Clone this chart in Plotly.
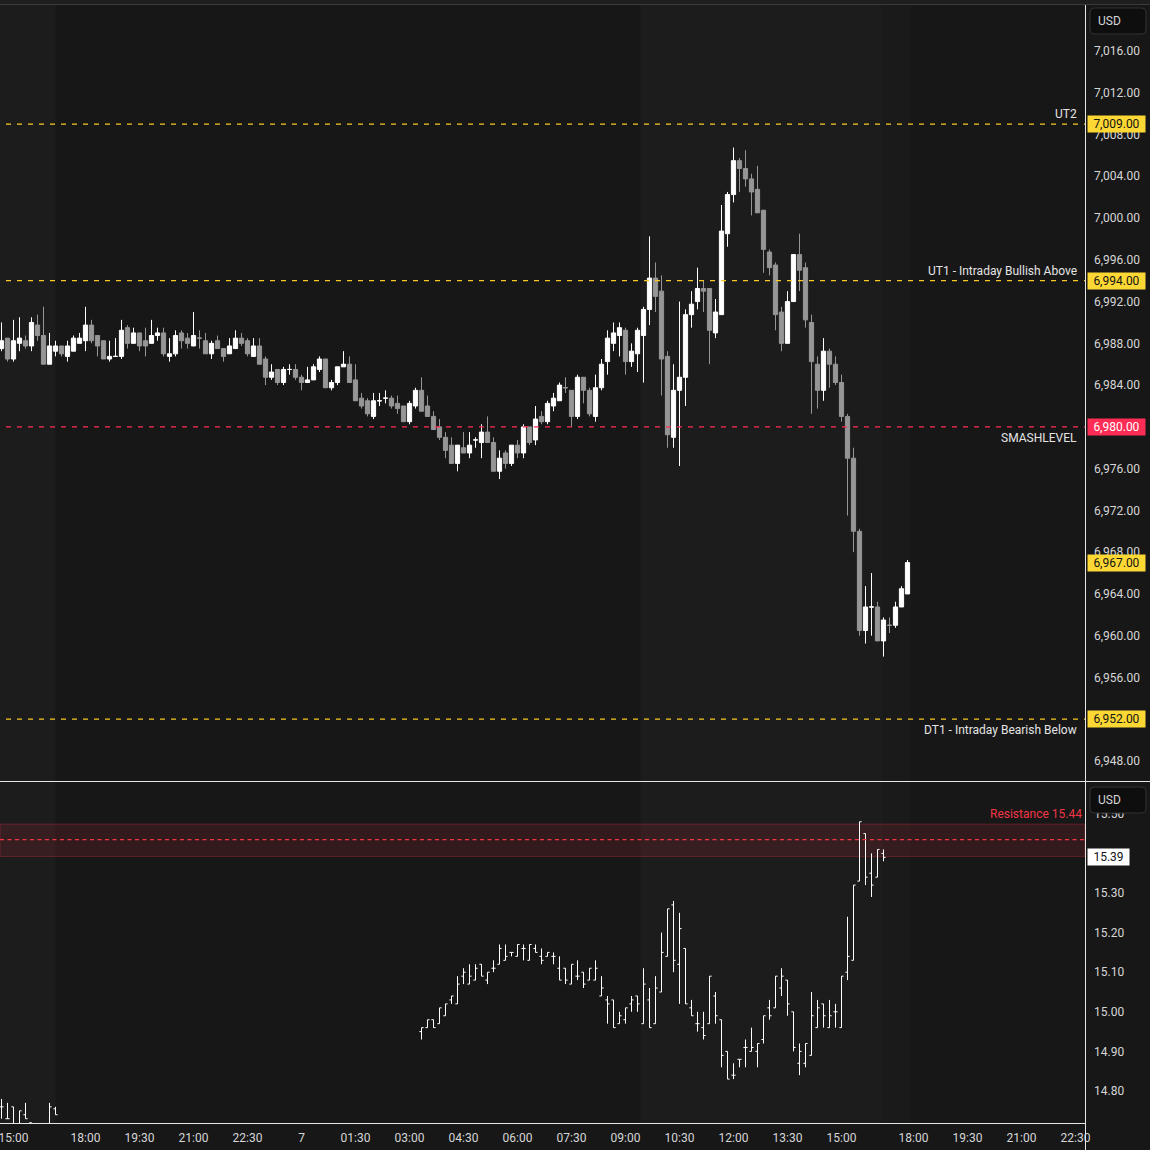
import numpy as np
import pandas as pd
import plotly.graph_objects as go

W = H = 1150

# ---------------- time grid: 10-minute bars, daily 17:00-18:00 break removed ----------------
bars = pd.date_range("2026-01-06 14:40", "2026-01-07 23:50", freq="10min")
bars = bars[bars.hour != 17]

# ---------------- ES 10-minute candles (first bar 2026-01-06 14:40) ----------------
es_start = "2026-01-06 14:40"
es_open = [
    6987.5, 6988.5, 6986.5, 6988.0, 6988.25, 6987.75, 6989.75, 6988.75, 6986.0, 6987.25,
    6987.75, 6986.75, 6987.25, 6988.0, 6988.25, 6989.75, 6988.75, 6988.25, 6986.5, 6986.75,
    6986.75, 6989.5, 6988.0, 6989.0, 6988.25, 6988.0, 6988.75, 6989.0, 6986.75, 6987.0,
    6989.0, 6988.5, 6987.75, 6988.5, 6988.25, 6987.0, 6988.25, 6987.5, 6987.0, 6987.5,
    6988.5, 6988.25, 6986.75, 6987.75, 6986.5, 6984.75, 6985.5, 6984.25, 6985.5, 6985.5,
    6984.75, 6984.25, 6984.5, 6985.5, 6986.5, 6983.75, 6984.25, 6985.75, 6986.0, 6984.5,
    6982.75, 6982.5, 6981.0, 6982.5, 6982.75, 6982.75, 6982.25, 6982.0, 6980.5, 6982.0,
    6983.5, 6982.0, 6981.0, 6980.0, 6979.0, 6978.25, 6976.5, 6978.0, 6977.5, 6978.75,
    6978.5, 6979.5, 6978.5, 6975.75, 6977.5, 6976.5, 6978.25, 6977.5, 6980.0, 6978.75,
    6981.0, 6980.5, 6982.0, 6982.5, 6983.75, 6983.5, 6981.0, 6984.75, 6983.5, 6981.0,
    6983.75, 6986.25, 6988.0, 6988.75, 6989.25, 6986.25, 6987.0, 6988.75, 6991.25, 6994.25,
    6993.0, 6986.75, 6979.0, 6983.5, 6984.75, 6990.75, 6992.0, 6993.25, 6993.25, 6989.0,
    6990.75, 6998.5, 7002.25, 7005.5, 7004.75, 7003.75, 7002.75, 7000.75, 6996.75, 6995.5,
    6991.0, 6988.0, 6992.0, 6996.5, 6995.25, 6990.0, 6986.0, 6983.5, 6987.25, 6986.0,
    6984.25, 6981.0, 6977.0, 6970.0, 6960.5, 6962.75, 6962.75, 6959.5, 6961.0, 6961.0,
    6962.75, 6964.0,
]
es_high = [
    6990.0, 6988.5, 6990.25, 6990.5, 6988.75, 6990.5, 6990.75, 6991.5, 6989.0, 6988.25,
    6987.75, 6988.25, 6988.75, 6989.0, 6991.5, 6990.25, 6988.75, 6988.25, 6988.25, 6988.5,
    6990.25, 6989.75, 6989.5, 6989.0, 6989.5, 6990.25, 6989.5, 6989.5, 6988.5, 6989.25,
    6989.25, 6989.0, 6991.0, 6989.25, 6989.0, 6988.25, 6988.75, 6987.5, 6988.5, 6989.25,
    6989.0, 6988.5, 6988.5, 6988.5, 6986.75, 6986.0, 6985.5, 6985.75, 6986.0, 6986.0,
    6985.0, 6985.75, 6986.0, 6986.75, 6986.5, 6984.5, 6985.75, 6987.25, 6986.75, 6986.0,
    6983.25, 6982.75, 6983.25, 6983.25, 6983.5, 6983.0, 6983.0, 6982.0, 6982.5, 6983.75,
    6984.75, 6983.0, 6981.5, 6980.75, 6979.5, 6979.0, 6978.25, 6979.5, 6979.5, 6979.0,
    6980.25, 6981.0, 6979.0, 6977.75, 6977.75, 6978.25, 6978.75, 6980.25, 6980.0, 6982.0,
    6981.5, 6982.5, 6983.25, 6984.25, 6984.75, 6983.5, 6985.0, 6984.75, 6983.75, 6985.0,
    6986.5, 6989.25, 6990.0, 6990.0, 6989.5, 6988.0, 6989.5, 6991.5, 6998.25, 6995.75,
    6994.5, 6987.25, 6986.0, 6992.0, 6991.25, 6993.0, 6995.25, 6994.0, 6993.25, 6992.25,
    7001.25, 7002.5, 7006.75, 7005.75, 7006.5, 7004.25, 7005.0, 7000.75, 6997.0, 6995.75,
    6991.5, 6993.0, 6996.5, 6998.5, 6995.75, 6990.75, 6986.75, 6988.5, 6987.5, 6986.75,
    6985.0, 6981.25, 6978.0, 6970.25, 6964.75, 6966.0, 6963.25, 6961.75, 6961.75, 6963.25,
    6964.75, 6967.25,
]
es_low = [
    6987.25, 6986.25, 6986.25, 6987.25, 6987.5, 6987.25, 6988.25, 6986.0, 6986.0, 6986.75,
    6986.75, 6986.25, 6987.25, 6988.0, 6987.25, 6988.0, 6986.75, 6986.5, 6986.25, 6986.75,
    6986.5, 6987.5, 6988.0, 6987.25, 6986.75, 6988.0, 6988.25, 6986.75, 6986.25, 6986.75,
    6987.5, 6987.5, 6987.75, 6987.5, 6987.0, 6986.5, 6987.5, 6986.25, 6987.0, 6987.5,
    6987.75, 6986.75, 6986.75, 6986.0, 6984.0, 6984.5, 6984.0, 6984.0, 6985.0, 6984.5,
    6983.5, 6984.25, 6984.5, 6985.25, 6983.75, 6983.5, 6984.0, 6985.75, 6984.25, 6982.5,
    6981.75, 6981.0, 6980.75, 6982.0, 6982.25, 6981.75, 6981.25, 6980.5, 6980.25, 6981.75,
    6981.5, 6981.0, 6979.75, 6978.75, 6977.0, 6976.5, 6975.75, 6977.5, 6977.0, 6978.0,
    6977.0, 6978.5, 6975.75, 6975.0, 6976.0, 6976.25, 6977.0, 6977.0, 6978.25, 6978.25,
    6980.25, 6980.25, 6981.5, 6982.5, 6983.25, 6980.0, 6980.75, 6982.25, 6981.0, 6980.5,
    6983.5, 6985.0, 6987.25, 6986.75, 6985.0, 6985.75, 6985.25, 6984.25, 6989.75, 6991.0,
    6983.0, 6978.0, 6978.0, 6976.25, 6982.0, 6989.5, 6991.25, 6991.0, 6986.0, 6988.5,
    6990.75, 6997.25, 7001.5, 7002.5, 7003.0, 7000.25, 7000.5, 6994.75, 6994.5, 6989.25,
    6987.25, 6988.0, 6992.0, 6993.0, 6989.5, 6981.25, 6981.75, 6982.5, 6983.75, 6984.0,
    6980.5, 6971.5, 6968.0, 6960.0, 6959.25, 6960.0, 6959.5, 6958.0, 6960.25, 6960.75,
    6962.75, 6964.0,
]
es_close = [
    6988.25, 6986.5, 6988.25, 6988.5, 6987.75, 6990.0, 6988.75, 6986.0, 6987.75, 6987.75,
    6987.0, 6987.75, 6988.5, 6988.5, 6989.75, 6988.25, 6987.75, 6986.5, 6986.75, 6986.75,
    6989.25, 6988.0, 6989.0, 6987.75, 6987.75, 6988.75, 6989.0, 6987.0, 6987.0, 6988.75,
    6988.25, 6988.0, 6988.75, 6988.5, 6987.0, 6988.0, 6987.5, 6986.75, 6987.75, 6988.5,
    6988.0, 6987.0, 6987.75, 6986.0, 6984.75, 6985.25, 6984.25, 6985.5, 6985.5, 6984.75,
    6984.25, 6984.5, 6985.75, 6986.5, 6983.75, 6984.25, 6985.75, 6986.0, 6984.25, 6982.5,
    6982.0, 6981.25, 6982.5, 6982.5, 6982.75, 6982.0, 6981.75, 6980.5, 6982.25, 6983.5,
    6981.5, 6981.0, 6979.75, 6979.0, 6977.75, 6976.5, 6978.25, 6977.5, 6978.25, 6978.75,
    6979.5, 6978.5, 6975.75, 6977.0, 6976.5, 6978.25, 6977.5, 6980.0, 6978.5, 6980.75,
    6980.5, 6982.25, 6982.75, 6984.0, 6983.75, 6981.0, 6984.75, 6983.5, 6981.25, 6983.75,
    6986.0, 6988.5, 6989.0, 6989.5, 6986.25, 6987.25, 6989.25, 6991.25, 6994.25, 6992.5,
    6986.5, 6979.25, 6983.5, 6984.75, 6990.75, 6991.75, 6993.25, 6993.0, 6989.25, 6991.0,
    6998.75, 7002.25, 7005.5, 7004.75, 7003.75, 7002.5, 7000.5, 6997.0, 6995.25, 6990.75,
    6988.0, 6992.0, 6996.5, 6995.0, 6990.25, 6986.25, 6983.5, 6987.25, 6986.0, 6984.25,
    6981.0, 6977.0, 6970.0, 6960.5, 6962.75, 6962.75, 6959.5, 6961.5, 6961.0, 6962.75,
    6964.5, 6967.0,
]

# ---------------- second instrument, 10-minute OHLC bars (two sessions) ----------------
vix_sessions = [("2026-01-06 14:40", 10), ("2026-01-07 03:20", 78)]
vix_open = [
    14.76, 14.73, 14.76, 14.71, 14.74, 14.72, 14.69, 14.68, 14.70, 14.755,
    14.95, 14.96, 14.98, 14.97, 14.99, 15.03, 15.02, 15.09, 15.07, 15.08,
    15.12, 15.08, 15.11, 15.12, 15.13, 15.15, 15.14, 15.16, 15.13, 15.16,
    15.14, 15.14, 15.14, 15.11, 15.11, 15.07, 15.09, 15.10, 15.08, 15.08,
    15.04, 15.03, 15.03, 14.97, 14.98, 15.02, 15.04, 14.97, 15.03, 14.97,
    15.05, 15.14, 15.27, 15.12, 15.16, 15.01, 14.97, 14.96, 14.97, 15.04,
    14.98, 14.90, 14.84, 14.88, 14.91, 14.90, 14.90, 14.93, 15.01, 15.01,
    15.06, 15.08, 15.00, 14.87, 14.87, 14.89, 14.96, 15.02, 14.96, 15.00,
    14.96, 15.10, 15.13, 15.33, 15.45, 15.35, 15.34, 15.40,
]
vix_high = [
    14.78, 14.77, 14.76, 14.75, 14.77, 14.72, 14.71, 14.70, 14.77, 14.76,
    14.96, 14.98, 14.98, 15.01, 15.02, 15.04, 15.09, 15.11, 15.12, 15.12,
    15.12, 15.10, 15.13, 15.17, 15.17, 15.15, 15.17, 15.17, 15.17, 15.17,
    15.16, 15.15, 15.15, 15.14, 15.11, 15.12, 15.13, 15.10, 15.11, 15.13,
    15.09, 15.04, 15.03, 15.00, 15.01, 15.04, 15.04, 15.11, 15.06, 15.09,
    15.20, 15.26, 15.28, 15.25, 15.16, 15.03, 15.00, 15.00, 15.09, 15.05,
    14.98, 14.90, 14.87, 14.88, 14.93, 14.96, 14.92, 14.99, 15.03, 15.09,
    15.11, 15.08, 15.00, 14.92, 14.92, 15.05, 15.03, 15.02, 15.03, 15.02,
    15.09, 15.24, 15.32, 15.48, 15.45, 15.40, 15.41, 15.41,
]
vix_low = [
    14.73, 14.73, 14.70, 14.70, 14.73, 14.68, 14.66, 14.67, 14.70, 14.74,
    14.93, 14.96, 14.96, 14.97, 14.99, 15.02, 15.02, 15.07, 15.07, 15.08,
    15.09, 15.07, 15.10, 15.12, 15.13, 15.14, 15.14, 15.13, 15.13, 15.15,
    15.12, 15.14, 15.12, 15.08, 15.07, 15.07, 15.08, 15.06, 15.08, 15.08,
    15.04, 14.97, 14.96, 14.97, 14.97, 15.00, 15.00, 14.97, 14.96, 14.97,
    15.05, 15.14, 15.10, 15.02, 15.02, 14.99, 14.95, 14.93, 14.97, 14.97,
    14.86, 14.83, 14.83, 14.86, 14.86, 14.90, 14.86, 14.92, 14.98, 15.01,
    15.04, 14.99, 14.90, 14.84, 14.86, 14.89, 14.96, 14.96, 14.96, 14.96,
    14.96, 15.08, 15.13, 15.33, 15.32, 15.29, 15.34, 15.38,
]
vix_close = [
    14.76, 14.73, 14.71, 14.75, 14.73, 14.69, 14.68, 14.70, 14.76, 14.74,
    14.96, 14.98, 14.96, 15.01, 15.02, 15.04, 15.07, 15.10, 15.09, 15.11,
    15.09, 15.10, 15.11, 15.16, 15.14, 15.15, 15.17, 15.16, 15.17, 15.15,
    15.13, 15.15, 15.14, 15.08, 15.08, 15.12, 15.09, 15.07, 15.11, 15.11,
    15.06, 15.02, 14.96, 14.99, 15.01, 15.03, 15.02, 15.07, 14.96, 15.06,
    15.15, 15.26, 15.13, 15.21, 15.02, 14.99, 14.97, 14.94, 15.09, 14.99,
    14.89, 14.83, 14.84, 14.88, 14.91, 14.91, 14.92, 14.99, 14.99, 15.09,
    15.09, 15.02, 14.91, 14.90, 14.92, 14.99, 15.01, 14.99, 14.99, 15.00,
    15.09, 15.14, 15.32, 15.48, 15.34, 15.32, 15.41, 15.39,
]

# ---------------- levels ----------------
level_names = ["UT2", "UT1 - Intraday Bullish Above", "SMASHLEVEL", "DT1 - Intraday Bearish Below"]
level_values = [7009.0, 6994.0, 6980.0, 6952.0]
level_kind = ["bull", "bull", "smash", "bull"]
level_label_side = ["above", "above", "below", "below"]
es_last = es_close[-1]

resistance_value = 15.435
resistance_text = "Resistance 15.44"
resistance_band = [15.392, 15.474]
vix_last = vix_close[-1]

# session shading (regular hours)
rth_windows = [("2026-01-06 09:30", "2026-01-06 16:15"), ("2026-01-07 09:30", "2026-01-07 16:15")]
post_windows = [("2026-01-07 16:15", "2026-01-07 17:00")]

tick_times = ["2026-01-06 15:00", "2026-01-06 18:00", "2026-01-06 19:30", "2026-01-06 21:00",
              "2026-01-06 22:30", "2026-01-07 00:00", "2026-01-07 01:30", "2026-01-07 03:00",
              "2026-01-07 04:30", "2026-01-07 06:00", "2026-01-07 07:30", "2026-01-07 09:00",
              "2026-01-07 10:30", "2026-01-07 12:00", "2026-01-07 13:30", "2026-01-07 15:00",
              "2026-01-07 18:00", "2026-01-07 19:30", "2026-01-07 21:00", "2026-01-07 22:30"]
tick_text = ["15:00", "18:00", "19:30", "21:00", "22:30", "7", "01:30", "03:00", "04:30", "06:00",
             "07:30", "09:00", "10:30", "12:00", "13:30", "15:00", "18:00", "19:30", "21:00", "22:30"]
es_ticks = [6948 + 4 * k for k in range(18)]
vix_ticks = [14.8, 14.9, 15.0, 15.1, 15.2, 15.3, 15.4, 15.5]

# ---------------- helpers ----------------
def tpos(t):
    t = pd.Timestamp(t)
    k = bars.searchsorted(t, side="right") - 1
    if k < 0:
        return -1.0
    return k + (t - bars[k]) / pd.Timedelta("10min") - 0.5

def px_x(p):
    return p / W

def px_y(p):
    return 1 - p / H

es_x0 = bars.get_loc(pd.Timestamp(es_start))
es_x = list(range(es_x0, es_x0 + len(es_open)))
vix_x = []
for s, n in vix_sessions:
    k = bars.get_loc(pd.Timestamp(s))
    vix_x += list(range(k, k + n))
tick_vals = [int(bars.get_loc(pd.Timestamp(t))) for t in tick_times]

PLOT_R = 1085       # px, right edge of plot area
TOP_T, TOP_B = 5, 781
BOT_T, BOT_B = 782, 1123
X_RANGE = [-0.25, -0.25 + PLOT_R / 6]

FONT = "Roboto"
TXT = "#d6d6d6"
LBL = "#e4e4e4"
YEL = "#fdd835"
YEL_LINE = "#f7c823"
RED = "#ff2d55"
UP = "#ffffff"
DN = "#969696"

fig = go.Figure()

fig.add_trace(go.Candlestick(
    x=es_x, open=es_open, high=es_high, low=es_low, close=es_close,
    xaxis="x2", yaxis="y2", whiskerwidth=0,
    increasing=dict(line=dict(color=UP, width=1), fillcolor=UP),
    decreasing=dict(line=dict(color=DN, width=1), fillcolor=DN),
    showlegend=False, hoverinfo="skip",
))
fig.add_trace(go.Ohlc(
    x=vix_x, open=vix_open, high=vix_high, low=vix_low, close=vix_close,
    xaxis="x", yaxis="y", tickwidth=0.35,
    increasing=dict(line=dict(color="#ffffff", width=1)),
    decreasing=dict(line=dict(color="#ffffff", width=1)),
    showlegend=False, hoverinfo="skip",
))

shapes = []
# session shading
for a, b in rth_windows:
    shapes.append(dict(type="rect", xref="x", yref="paper", x0=tpos(a), x1=tpos(b),
                       y0=px_y(BOT_B), y1=px_y(TOP_T), fillcolor="#1c1c1c",
                       line=dict(width=0), layer="below"))
for a, b in post_windows:
    shapes.append(dict(type="rect", xref="x", yref="paper", x0=tpos(a), x1=tpos(b),
                       y0=px_y(BOT_B), y1=px_y(TOP_T), fillcolor="#1a1a1a",
                       line=dict(width=0), layer="below"))
# top strip + border
shapes.append(dict(type="rect", xref="paper", yref="paper", x0=0, x1=1, y0=px_y(4), y1=1,
                   fillcolor="#1e1e1e", line=dict(width=0), layer="below"))
shapes.append(dict(type="line", xref="paper", yref="paper", x0=0, x1=1, y0=px_y(4.5), y1=px_y(4.5),
                   line=dict(color="#3a3a3a", width=1), layer="above"))

# level lines
for name, v, kind in zip(level_names, level_values, level_kind):
    col = RED if kind == "smash" else YEL_LINE
    shapes.append(dict(type="line", xref="paper", yref="y2", x0=px_x(6), x1=px_x(PLOT_R),
                       y0=v, y1=v, line=dict(color=col, width=1.3, dash="5px,6px"), layer="above"))

# resistance band and line
shapes.append(dict(type="rect", xref="paper", yref="y", x0=0, x1=px_x(PLOT_R),
                   y0=resistance_band[0], y1=resistance_band[1],
                   fillcolor="rgba(242,54,69,0.13)", line=dict(color="rgba(242,54,69,0.28)", width=1),
                   layer="below"))
shapes.append(dict(type="line", xref="paper", yref="y", x0=0, x1=px_x(PLOT_R),
                   y0=resistance_value, y1=resistance_value,
                   line=dict(color="#f23645", width=1.3, dash="4px,3.5px"), layer="above"))

# frame lines
shapes.append(dict(type="line", xref="paper", yref="paper", x0=px_x(PLOT_R + 0.5), x1=px_x(PLOT_R + 0.5),
                   y0=0, y1=px_y(5), line=dict(color="#e6e6e6", width=1), layer="above"))
shapes.append(dict(type="line", xref="paper", yref="paper", x0=0, x1=1,
                   y0=px_y(781.5), y1=px_y(781.5), line=dict(color="#e6e6e6", width=1), layer="above"))
shapes.append(dict(type="line", xref="paper", yref="paper", x0=0, x1=px_x(PLOT_R),
                   y0=px_y(1123.5), y1=px_y(1123.5), line=dict(color="#e6e6e6", width=1), layer="above"))

# USD boxes (rounded)
def rrect(x0, y0, x1, y1, r=4):
    X0, X1 = px_x(x0), px_x(x1)
    Y0, Y1 = px_y(y0), px_y(y1)
    rx, ry = r / W, r / H
    return (f"M{X0+rx},{Y0} L{X1-rx},{Y0} Q{X1},{Y0} {X1},{Y0-ry} "
            f"L{X1},{Y1+ry} Q{X1},{Y1} {X1-rx},{Y1} L{X0+rx},{Y1} Q{X0},{Y1} {X0},{Y1+ry} "
            f"L{X0},{Y0-ry} Q{X0},{Y0} {X0+rx},{Y0} Z")

usd_boxes = [(1090, 8, 1146, 34), (1090, 787, 1146, 813)]
for (bx0, by0, bx1, by1) in usd_boxes:
    shapes.append(dict(type="path", xref="paper", yref="paper", path=rrect(bx0, by0, bx1, by1),
                       fillcolor="#0e0e0e", line=dict(color="#333333", width=1), layer="above"))

annotations = []
for (bx0, by0, bx1, by1) in usd_boxes:
    annotations.append(dict(xref="paper", yref="paper", x=px_x(bx0 + 6), y=px_y((by0 + by1) / 2),
                            xanchor="left", yanchor="middle", text="USD", showarrow=False,
                            font=dict(family=FONT, size=12, color=TXT)))

# level labels and tags
for name, v, kind, side in zip(level_names, level_values, level_kind, level_label_side):
    annotations.append(dict(xref="paper", yref="y2", x=px_x(1079), y=v, xanchor="right",
                            yanchor="bottom" if side == "above" else "top",
                            yshift=1 if side == "above" else -2,
                            text=name, showarrow=False, font=dict(family=FONT, size=12, color=LBL)))
    bg = RED if kind == "smash" else YEL
    fg = "#ffffff" if kind == "smash" else "#131313"
    annotations.append(dict(xref="paper", yref="y2", x=px_x(1087), y=v, xanchor="left", yanchor="middle",
                            text=f"{v:,.2f}", showarrow=False, bgcolor=bg, width=55, height=14,
                            borderpad=1, font=dict(family=FONT, size=12, color=fg)))
annotations.append(dict(xref="paper", yref="y2", x=px_x(1087), y=es_last, xanchor="left", yanchor="middle",
                        text=f"{es_last:,.2f}", showarrow=False, bgcolor=YEL, width=55, height=14,
                        borderpad=1, font=dict(family=FONT, size=12, color="#131313")))

annotations.append(dict(xref="paper", yref="y", x=px_x(1084), y=resistance_band[1], xanchor="right",
                        yanchor="bottom", yshift=1, text=resistance_text, showarrow=False,
                        font=dict(family=FONT, size=12, color="#f23645")))
annotations.append(dict(xref="paper", yref="y", x=px_x(1087), y=vix_last, xanchor="left", yanchor="middle",
                        text=f"{vix_last:.2f}", showarrow=False, bgcolor="#ffffff", width=39, height=14,
                        borderpad=1, font=dict(family=FONT, size=12, color="#131313")))

fig.update_layout(
    width=W, height=H, margin=dict(l=0, r=0, t=0, b=0, pad=0, autoexpand=False),
    paper_bgcolor="#171717", plot_bgcolor="rgba(0,0,0,0)",
    showlegend=False, hovermode=False, boxgap=0.3, boxgroupgap=0,
    font=dict(family=FONT, color=TXT, size=12),
    xaxis=dict(domain=[0, px_x(PLOT_R)], anchor="y", range=X_RANGE, tickmode="array",
               tickvals=tick_vals, ticktext=tick_text, showgrid=False, zeroline=False, ticks="",
               showline=False, tickfont=dict(family=FONT, size=12, color=TXT), ticklabelstandoff=6,
               ticklabeloverflow="allow", automargin=False, rangeslider=dict(visible=False)),
    xaxis2=dict(domain=[0, px_x(PLOT_R)], anchor="y2", matches="x", showticklabels=False,
                showgrid=False, zeroline=False, ticks="", automargin=False,
                rangeslider=dict(visible=False)),
    yaxis=dict(domain=[px_y(BOT_B), px_y(BOT_T)], anchor="x", side="right",
               range=[15.30 - (BOT_B - 893) / 396, 15.30 + (893 - BOT_T) / 396],
               tickmode="array", tickvals=vix_ticks, tickformat=".2f", showgrid=False,
               zeroline=False, ticks="", automargin=False,
               tickfont=dict(family=FONT, size=12, color=TXT), ticklabelstandoff=8,
               ticklabeloverflow="allow"),
    yaxis2=dict(domain=[px_y(TOP_B), px_y(TOP_T)], anchor="x2", side="right",
                range=[7016 - (TOP_B - 51) / 10.441, 7016 + (51 - TOP_T) / 10.441],
                tickmode="array", tickvals=es_ticks, tickformat=",.2f", showgrid=False,
                zeroline=False, ticks="", automargin=False,
                tickfont=dict(family=FONT, size=12, color=TXT), ticklabelstandoff=8,
                ticklabeloverflow="allow"),
    shapes=shapes, annotations=annotations,
)

fig.write_html("out.html", config={"displayModeBar": False},
               post_script="document.body.style.margin='0';document.body.style.overflow='hidden';")
